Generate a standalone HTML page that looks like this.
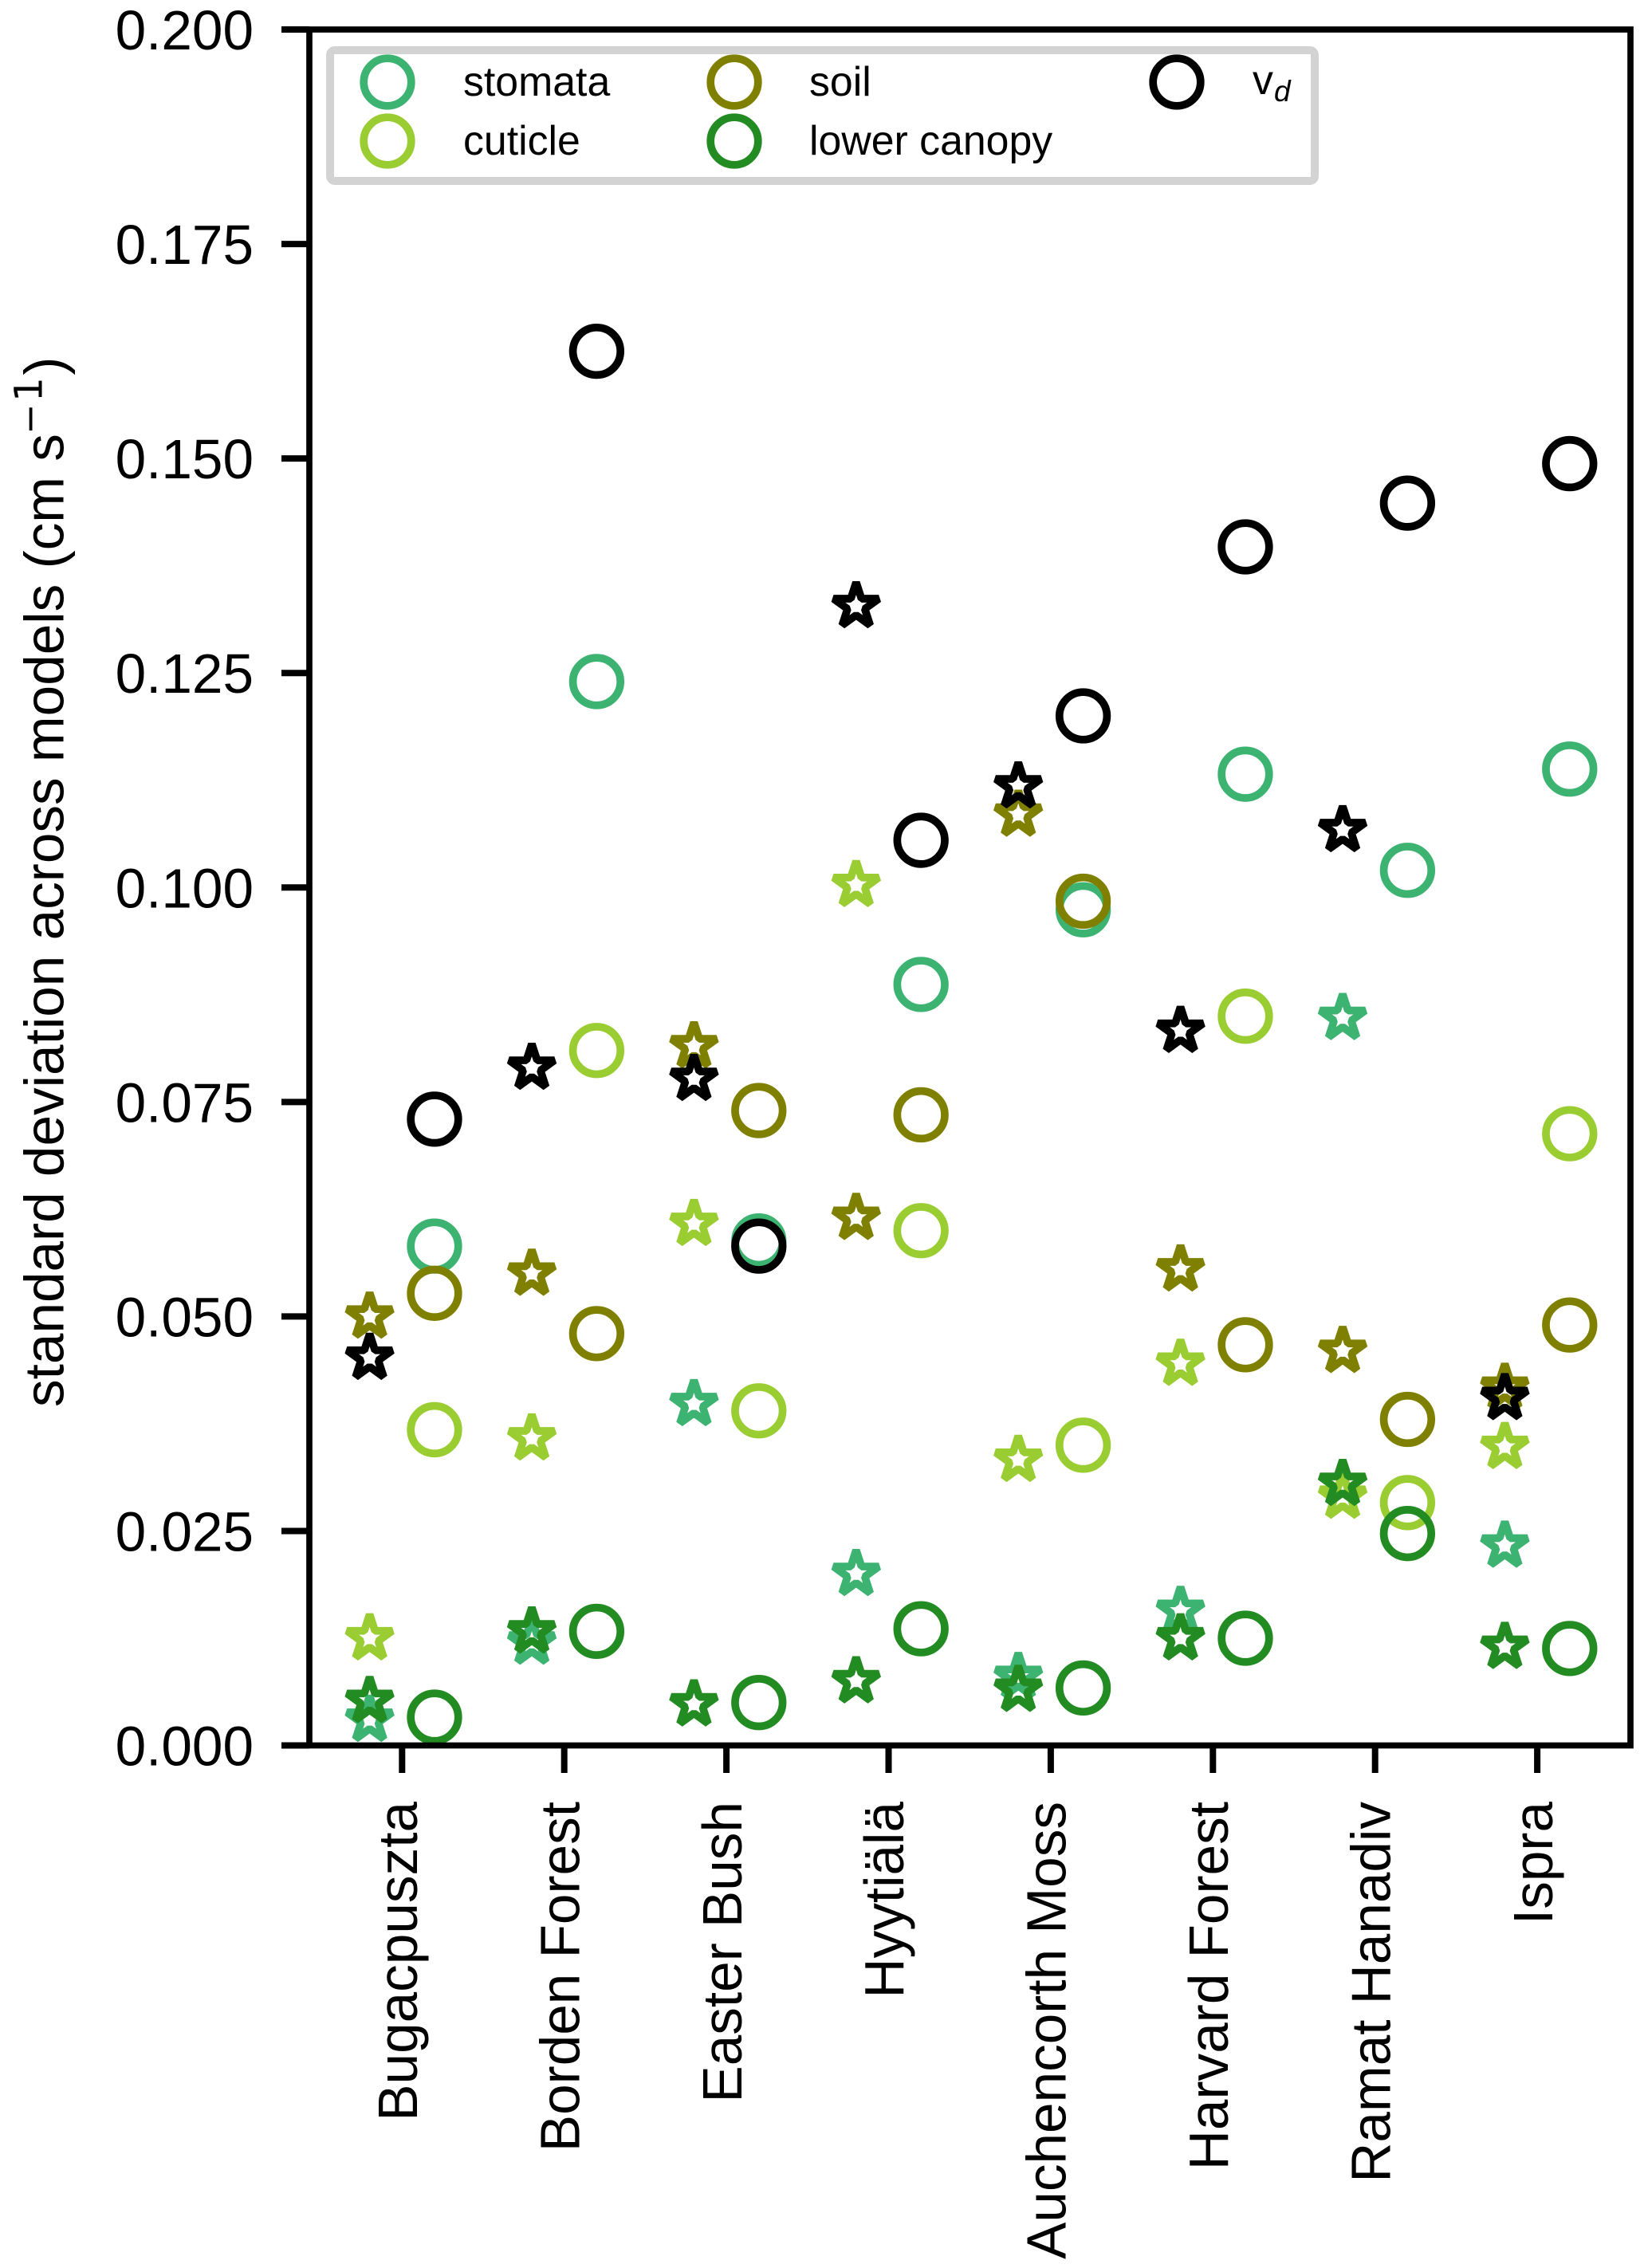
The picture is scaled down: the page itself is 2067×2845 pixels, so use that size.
<!DOCTYPE html>
<html lang="en">
<head>
<meta charset="utf-8">
<title>Standard deviation across models</title>
<style>
html,body{margin:0;padding:0;background:#fff;}
svg{display:block;font-family:"Liberation Sans",Arial,sans-serif;}
</style>
</head>
<body>
<svg id="chart" xmlns="http://www.w3.org/2000/svg" width="2067" height="2845" viewBox="0 0 2067 2845">
  <rect x="0" y="0" width="2067" height="2845" fill="#ffffff"/>
  <g id="marks"></g>
  <g id="axes"></g>

  <g fill="#000">
    <text transform="translate(79.5,1765) rotate(-90)" font-size="69.3">standard deviation across models (cm s</text>
    <text transform="translate(53,545) rotate(-90)" font-size="46" style="font-family:'DejaVu Sans',sans-serif">−</text>
    <text transform="translate(52.5,504) rotate(-90)" font-size="48.5" style="font-family:'DejaVu Sans',sans-serif">1</text>
    <text transform="translate(79.5,470.6) rotate(-90)" font-size="69.3">)</text>
  </g>

  <g>
    <rect x="414" y="63" width="1235" height="164" rx="6" ry="6" fill="#ffffff" stroke="#d3d3d3" stroke-width="10"/>
    <g>
      <circle cx="486" cy="103" r="29.8" fill="none" stroke="#3cb371" stroke-width="9.7"/>
      <text x="581" y="120" font-size="51.8">stomata</text>
    </g>
    <g>
      <circle cx="486" cy="177" r="29.8" fill="none" stroke="#9acd32" stroke-width="9.7"/>
      <text x="581" y="194" font-size="51.8">cuticle</text>
    </g>
    <g>
      <circle cx="921" cy="103" r="29.8" fill="none" stroke="#808000" stroke-width="9.7"/>
      <text x="1015" y="120" font-size="51.8">soil</text>
    </g>
    <g>
      <circle cx="921" cy="177" r="29.8" fill="none" stroke="#228b22" stroke-width="9.7"/>
      <text x="1015" y="194" font-size="51.8">lower canopy</text>
    </g>
    <g>
      <circle cx="1476" cy="103" r="29.8" fill="none" stroke="#000000" stroke-width="9.7"/>
      <text x="1571" y="118" font-size="51.8">v</text>
      <text x="1598" y="127" font-size="37" font-style="italic">d</text>
    </g>
  </g>
</svg>

<script>
const sites = ["Bugacpuszta","Borden Forest","Easter Bush","Hyytiälä","Auchencorth Moss","Harvard Forest","Ramat Hanadiv","Ispra"];
const yTickValues = [0, 0.025, 0.05, 0.075, 0.1, 0.125, 0.15, 0.175, 0.2];
const yTickLabels = ["0.000","0.025","0.050","0.075","0.100","0.125","0.150","0.175","0.200"];

// star markers (left of each tick)
const starStomata = [0.0030, 0.0120, 0.0398, 0.0200, 0.0080, 0.0157, 0.0848, 0.0233];
const starCuticle = [0.0125, 0.0358, 0.0608, 0.1003, 0.0333, 0.0445, 0.0290, 0.0348];
const starSoil    = [0.0500, 0.0550, 0.0815, 0.0615, 0.1085, 0.0555, 0.0460, 0.0417];
const starLower   = [0.0052, 0.0133, 0.0048, 0.0075, 0.0065, 0.0125, 0.0305, 0.0115];
const starVd      = [0.0452, 0.0790, 0.0777, 0.1328, 0.1118, 0.0833, 0.1067, 0.0405];

// circle markers (right of each tick)
const circleStomata = [0.0582, 0.1240, 0.0588, 0.0887, 0.0974, 0.1132, 0.1020, 0.1138];
const circleCuticle = [0.0368, 0.0810, 0.0390, 0.0600, 0.0350, 0.0850, 0.0283, 0.0713];
const circleSoil    = [0.0527, 0.0480, 0.0740, 0.0735, 0.0984, 0.0467, 0.0380, 0.0490];
const circleLower   = [0.0033, 0.0133, 0.0050, 0.0136, 0.0067, 0.0125, 0.0247, 0.0113];
const circleVd      = [0.0730, 0.1625, 0.0582, 0.1055, 0.1200, 0.1397, 0.1448, 0.1494];

const seriesNames = ["stomata","cuticle","soil","lower-canopy","vd"];
const seriesColors = ["#3cb371","#9acd32","#808000","#228b22","#000000"];
const starSeries = [starStomata, starCuticle, starSoil, starLower, starVd];
const circleSeries = [circleStomata, circleCuticle, circleSoil, circleLower, circleVd];

const SVG_NS = "http://www.w3.org/2000/svg";
const plotLeft = 388, plotRight = 2045, plotTop = 37, plotBottom = 2189.5;
const yMax = 0.2;
const xTick0 = 504.3, xTickStep = 203.4;
const starOffset = -0.2, circleOffset = 0.2;
const markerRadius = 29.8, markerStroke = 9.7;

function xScale(v){ return xTick0 + v * xTickStep; }
function yScale(v){ return plotBottom - (v / yMax) * (plotBottom - plotTop); }

function make(tag, attrs){
  const el = document.createElementNS(SVG_NS, tag);
  for (const k in attrs) el.setAttribute(k, attrs[k]);
  return el;
}

function starPoints(cx, cy, R){
  const inner = R * 0.381966;
  const pts = [];
  for (let i = 0; i < 10; i++){
    const r = i % 2 === 0 ? R : inner;
    const a = -Math.PI / 2 + i * Math.PI / 5;
    pts.push((cx + r * Math.cos(a)).toFixed(2) + "," + (cy + r * Math.sin(a)).toFixed(2));
  }
  return pts.join(" ");
}

const marks = document.getElementById("marks");
seriesNames.forEach(function(name, s){
  const g = make("g", {});
  
  
  sites.forEach(function(site, i){
    const star = make("polygon", {
      points: starPoints(xScale(i + starOffset), yScale(starSeries[s][i]), markerRadius),
      fill: "none",
      stroke: seriesColors[s],
      "stroke-width": markerStroke,
      "stroke-linejoin": "bevel"
    });
    
    
    g.appendChild(star);
    const circle = make("circle", {
      cx: xScale(i + circleOffset),
      cy: yScale(circleSeries[s][i]),
      r: markerRadius,
      fill: "none",
      stroke: seriesColors[s],
      "stroke-width": markerStroke
    });
    
    
    g.appendChild(circle);
  });
  marks.appendChild(g);
});

const axes = document.getElementById("axes");
const frame = make("rect", {
  x: plotLeft, y: plotTop,
  width: plotRight - plotLeft, height: plotBottom - plotTop,
  fill: "none", stroke: "#000", "stroke-width": 7.7
});


axes.appendChild(frame);

yTickValues.forEach(function(v, i){
  const y = yScale(v);
  const tick = make("line", {x1: 353, x2: plotLeft, y1: y, y2: y, stroke: "#000", "stroke-width": 8});
  
  
  axes.appendChild(tick);
  const label = make("text", {x: 318, y: y + 25, "font-size": 69.3, "text-anchor": "end", fill: "#000"});
  label.textContent = yTickLabels[i];
  
  
  axes.appendChild(label);
});

sites.forEach(function(site, i){
  const x = xScale(i);
  const tick = make("line", {x1: x, x2: x, y1: plotBottom, y2: 2224, stroke: "#000", "stroke-width": 8});
  
  
  axes.appendChild(tick);
  const label = make("text", {
    transform: "translate(" + (x + 18.7) + ",2260) rotate(-90)",
    "font-size": 69.3, "text-anchor": "end", fill: "#000"
  });
  label.textContent = site;
  
  
  axes.appendChild(label);
});
</script>
</body>
</html>
